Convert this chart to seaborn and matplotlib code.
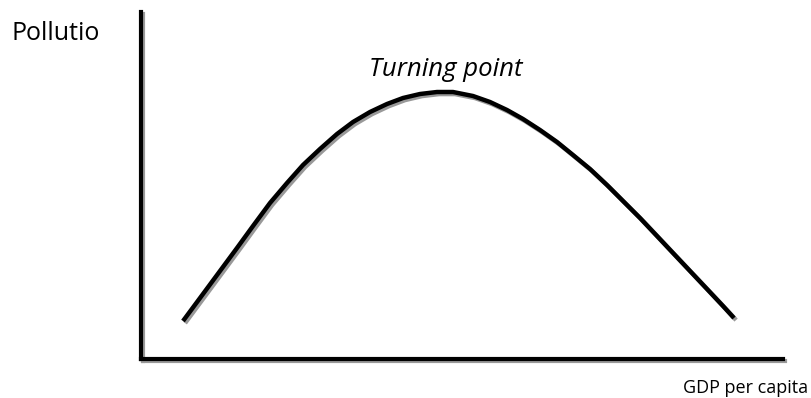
import pandas as pd
import matplotlib.pyplot as plt
import matplotlib.patheffects as pe
import seaborn as sns

# curve (GDP per capita vs pollution, arbitrary units)
gdp = [42, 62, 79, 96, 112, 129, 146, 162, 179, 196, 212, 229, 246, 262, 279, 296, 312,
       332, 349, 366, 382, 399, 416, 432, 449, 466, 482, 499, 516, 532, 549, 566, 582, 593]
pollution = [38, 65, 88, 111, 133, 156, 176, 194, 210, 225, 237, 247, 255, 261, 265, 267, 267,
             263, 257, 249, 240, 229, 217, 204, 190, 174, 158, 141, 123, 106, 88, 70, 53, 41]

df = pd.DataFrame({"GDP": gdp, "Pollution": pollution})

sns.set_style("white")
plt.rcParams["font.family"] = ["Open Sans", "DejaVu Sans"]
plt.rcParams["text.color"] = "black"

fig = plt.figure(figsize=(8.11, 3.98), dpi=100)
ax = fig.add_axes([141 / 811, 39 / 398, 642 / 811, 347 / 398])

shadow = [pe.SimpleLineShadow(offset=(1.5, -1.5), shadow_color="#999999", alpha=1), pe.Normal()]

sns.lineplot(data=df, x="GDP", y="Pollution", color="black", linewidth=3.2, ax=ax)
curve = ax.lines[0]
curve.set_path_effects(shadow)
curve.set_solid_capstyle("butt")
curve.set_solid_joinstyle("round")

ax.set_xlim(0, 642)
ax.set_ylim(0, 347)
ax.set_xticks([])
ax.set_yticks([])
ax.set_xlabel("")
ax.set_ylabel("")
for side in ["top", "right"]:
    ax.spines[side].set_visible(False)
for side in ["left", "bottom"]:
    ax.spines[side].set_linewidth(3)
    ax.spines[side].set_color("black")
    ax.spines[side].set_path_effects(shadow)

fig.text(12 / 811, 1 - 33 / 398, "Pollutio", fontsize=18, va="center", ha="left")
fig.text(446 / 811, 1 - 69 / 398, "Turning point", fontsize=18.5, style="italic", va="center", ha="center")
fig.text(683 / 811, 1 - 388 / 398, "GDP per capita", fontsize=13, va="center", ha="left")

plt.savefig("out.png", dpi=100)
